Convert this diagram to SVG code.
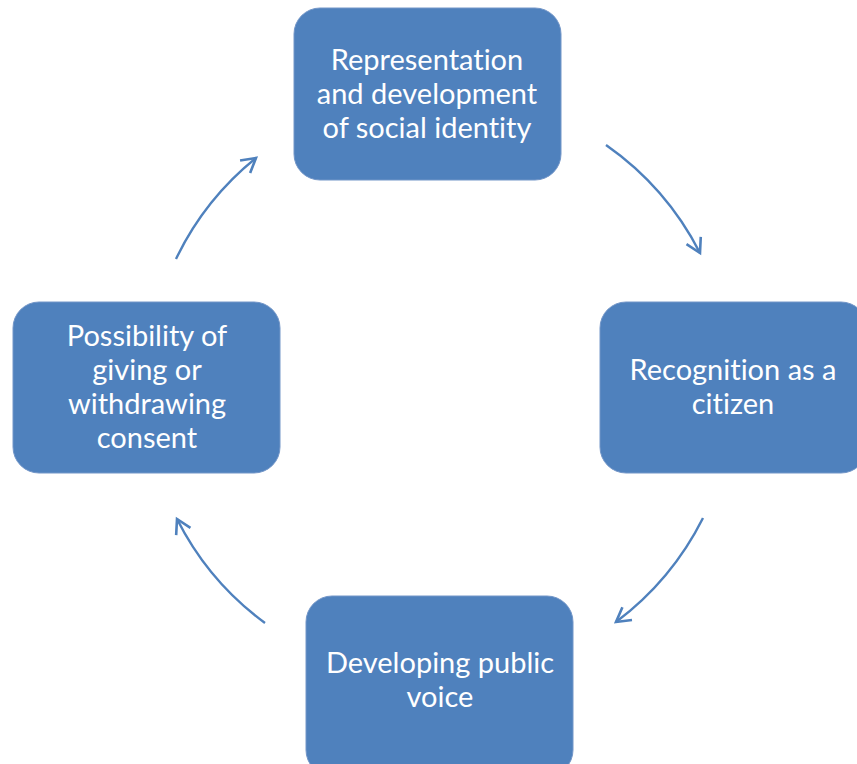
<svg xmlns="http://www.w3.org/2000/svg" width="857" height="764" viewBox="0 0 857 764">
<style>
.box{fill:#4F81BD;stroke:#7396C8;stroke-width:1}
.t{font-family:"Lato","Liberation Sans",sans-serif;font-size:29px;fill:#FFFFFF;text-anchor:middle;font-variant-ligatures:none}
.c{fill:none;stroke:#4F81BD;stroke-width:2.4}
</style>
<defs>
<marker id="ah" markerUnits="userSpaceOnUse" markerWidth="20" markerHeight="20" viewBox="0 0 20 20" refX="17" refY="10" orient="auto">
<path d="M3,2 L17,10 L3,18" fill="none" stroke="#4F81BD" stroke-width="2.6"/>
</marker>
</defs>
<rect width="857" height="764" fill="#FFFFFF"/>
<g id="connectors">
<path class="c" marker-end="url(#ah)" d="M606,145 A296,296 0 0 1 700,253"/>
<path class="c" marker-end="url(#ah)" d="M703,518 A296,296 0 0 1 616,622"/>
<path class="c" marker-end="url(#ah)" d="M265,623 A292,292 0 0 1 177,519"/>
<path class="c" marker-end="url(#ah)" d="M176,259 A292,292 0 0 1 256,158"/>
</g>
<g id="n1">
<rect class="box" x="294" y="8" width="267" height="172" rx="26"/>
<text class="t" x="427" y="70">Representation</text>
<text class="t" x="427" y="104">and development</text>
<text class="t" x="427" y="138">of social identity</text>
</g>
<g id="n2">
<rect class="box" x="600" y="302" width="267" height="171" rx="26"/>
<text class="t" x="733" y="380">Recognition as a</text>
<text class="t" x="733" y="414">citizen</text>
</g>
<g id="n3">
<rect class="box" x="306" y="596" width="267" height="180" rx="26"/>
<text class="t" x="440" y="673">Developing public</text>
<text class="t" x="440" y="707">voice</text>
</g>
<g id="n4">
<rect class="box" x="13" y="302" width="267" height="171" rx="26"/>
<text class="t" x="147" y="346">Possibility of</text>
<text class="t" x="147" y="380">giving or</text>
<text class="t" x="147" y="414">withdrawing</text>
<text class="t" x="147" y="448">consent</text>
</g>
</svg>
